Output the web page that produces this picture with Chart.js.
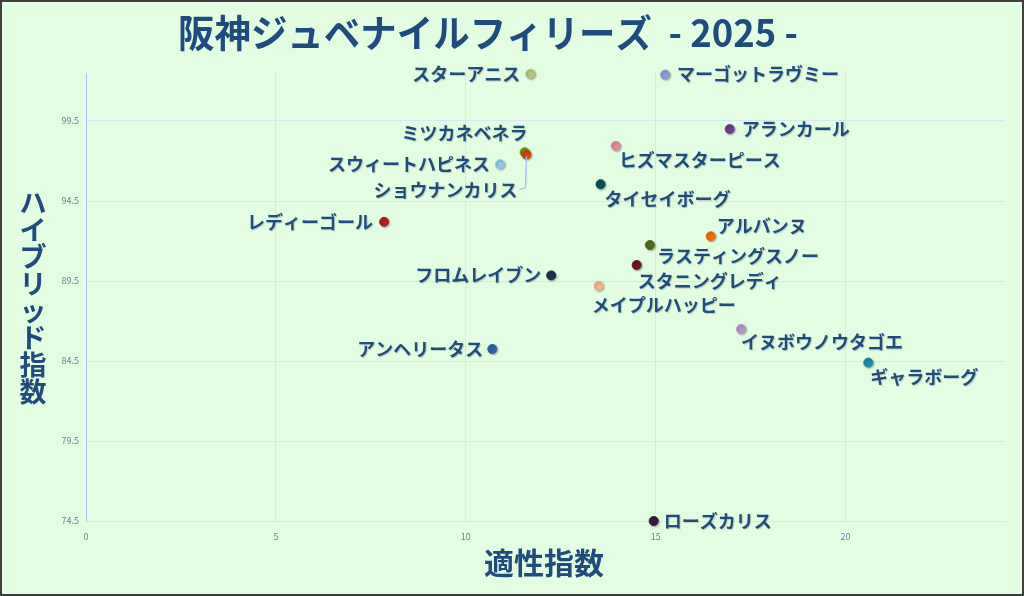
<!DOCTYPE html>
<html lang="ja">
<head>
<meta charset="utf-8">
<title>阪神ジュベナイルフィリーズ 2025</title>
<script src="https://cdn.jsdelivr.net/npm/chart.js@4.4.1/dist/chart.umd.min.js"></script>
<style>
  html, body { margin: 0; padding: 0; background: #e3fde3; }
  #wrap { width: 1024px; height: 596px; position: relative; }
</style>
</head>
<body>
<div id="wrap"><canvas id="grafico" width="1024" height="596"></canvas></div>
<script>
// データ
const horses = [
  "スターアニス", "マーゴットラヴミー", "アランカール", "ヒズマスターピース",
  "ミツカネベネラ", "ショウナンカリス", "スウィートハピネス", "タイセイボーグ",
  "レディーゴール", "アルバンヌ", "ラスティングスノー", "スタニングレディ",
  "フロムレイブン", "メイプルハッピー", "イヌボウノウタゴエ", "ギャラボーグ",
  "アンヘリータス", "ローズカリス"
];
const tekisei = [
  11.7, 15.25, 16.95, 13.95,
  11.55, 11.6, 10.9, 13.55,
  7.85, 16.45, 14.85, 14.5,
  12.25, 13.5, 17.25, 20.6,
  10.7, 14.95
];
const hybrid = [
  102.45, 102.4, 99.0, 97.95,
  97.55, 97.4, 96.8, 95.55,
  93.2, 92.3, 91.75, 90.5,
  89.85, 89.2, 86.5, 84.4,
  85.25, 74.5
];
const xTicks = [0, 5, 10, 15, 20];
const yTicks = [74.5, 79.5, 84.5, 89.5, 94.5, 99.5];

const colores = [
  "#b3c77c", "#8a9fd6", "#6b3f8c", "#e38c97",
  "#6f9a1e", "#c9470f", "#8fcbe3", "#0e4d55",
  "#b1201f", "#f26b05", "#4e6b1f", "#6f1719",
  "#1b3150", "#f5b38d", "#b495c9", "#1b8ba3",
  "#2c62a3", "#3b1b42"
];
// ラベル位置 [揃え, dx, dy]
const etiquetas = [
  ["right", -10, 0], ["left", 12, 0], ["left", 12, 0], ["left", 3, 14],
  ["right", 3, -19], ["right", -9, 36], ["right", -10, 0], ["left", 4, 15],
  ["right", -11, 0], ["left", 6, -10], ["left", 7, 11], ["left", 1, 16],
  ["right", -10, 0], ["left", -7, 19], ["left", 0, 13], ["left", 2, 15],
  ["right", -9, 0], ["left", 10, 0]
];

const azul = "#1f4b7d";
const jp = "'Noto Sans CJK JP', 'Noto Sans', sans-serif";

const puntos = horses.map((h, i) => ({ x: tekisei[i], y: hybrid[i] }));

const fondo = {
  id: "fondo",
  beforeDraw(chart) {
    const c = chart.ctx;
    c.save();
    c.fillStyle = "#e3fde3";
    c.fillRect(0, 0, chart.width, chart.height);
    c.restore();
  },
  afterDraw(chart) {
    const c = chart.ctx;
    c.save();
    c.strokeStyle = "#3f3f3f";
    c.lineWidth = 2;
    c.strokeRect(1, 1, chart.width - 2, chart.height - 2);

    // タイトル
    c.fillStyle = azul;
    c.textBaseline = "middle";
    c.font = "bold 38px " + jp;
    const t1 = "阪神ジュベナイルフィリーズ";
    const t2 = "  - 2025 -";
    const w1 = c.measureText(t1).width;
    const w2 = c.measureText(t2).width;
    const sx = 620 / (w1 + w2);
    c.save();
    c.translate(178, 33);
    c.scale(sx, 1);
    c.fillText(t1 + t2, 0, 0);
    c.restore();

    // 軸タイトル
    c.font = "bold 30px " + jp;
    c.textAlign = "center";
    c.fillText("適性指数", 544, 563);

    const vt = "ハイブリッド指数";
    c.font = "bold 27px " + jp;
    for (let i = 0; i < vt.length; i++) {
      c.fillText(vt[i], 33, 203 + i * 27);
    }
    c.restore();
  }
};

const sombra = {
  id: "sombra",
  beforeDatasetsDraw(chart) {
    const c = chart.ctx;
    c.save();
    c.shadowColor = "rgba(0,0,0,0.3)";
    c.shadowBlur = 2;
    c.shadowOffsetX = 1;
    c.shadowOffsetY = 1;
  },
  afterDatasetsDraw(chart) {
    chart.ctx.restore();
  }
};

const nombres = {
  id: "nombres",
  afterDatasetsDraw(chart) {
    const c = chart.ctx;
    const meta = chart.getDatasetMeta(0);
    c.save();
    // ショウナンカリスの引き出し線
    const p = meta.data[5];
    c.strokeStyle = "#a9c4f2";
    c.lineWidth = 1.5;
    c.beginPath();
    c.moveTo(p.x, p.y + 2);
    c.lineTo(p.x - 1, p.y + 33);
    c.lineTo(p.x - 7, p.y + 35);
    c.stroke();

    c.font = "bold 18px " + jp;
    c.fillStyle = azul;
    c.textBaseline = "middle";
    c.shadowColor = "rgba(0,0,0,0.18)";
    c.shadowBlur = 1;
    c.shadowOffsetX = 1;
    c.shadowOffsetY = 1;
    meta.data.forEach((pt, i) => {
      const [al, dx, dy] = etiquetas[i];
      c.textAlign = al;
      c.fillText(horses[i], pt.x + dx, pt.y + dy);
    });
    c.restore();
  }
};

new Chart(document.getElementById("grafico"), {
  type: "scatter",
  data: {
    datasets: [{
      data: puntos,
      backgroundColor: colores,
      borderColor: colores,
      pointRadius: 4.5,
      pointHoverRadius: 4.5,
      clip: false
    }]
  },
  options: {
    responsive: false,
    animation: false,
    events: [],
    layout: { padding: { top: 73, right: 19, left: 0, bottom: 0 } },
    plugins: {
      legend: { display: false },
      tooltip: { enabled: false }
    },
    scales: {
      x: {
        type: "linear",
        min: 0,
        max: 24.2,
        afterBuildTicks: s => { s.ticks = xTicks.map(v => ({ value: v })); },
        afterFit: s => { s.height = 75; },
        grid: { color: "#d6e6f6", drawTicks: false },
        border: { color: "#d6e6f6" },
        ticks: { color: "#6b7f9a", font: { size: 9, family: jp }, padding: 10, maxRotation: 0 }
      },
      y: {
        type: "linear",
        min: 74.5,
        max: 102.5,
        afterBuildTicks: s => { s.ticks = yTicks.map(v => ({ value: v })); },
        afterFit: s => { s.width = 86; },
        grid: { color: "#d6e6f6", drawTicks: false },
        border: { color: "#a9c4f2" },
        ticks: { color: "#6b7f9a", font: { size: 9, family: jp }, padding: 7, callback: v => v.toFixed(1) }
      }
    }
  },
  plugins: [fondo, sombra, nombres]
});
</script>
</body>
</html>
